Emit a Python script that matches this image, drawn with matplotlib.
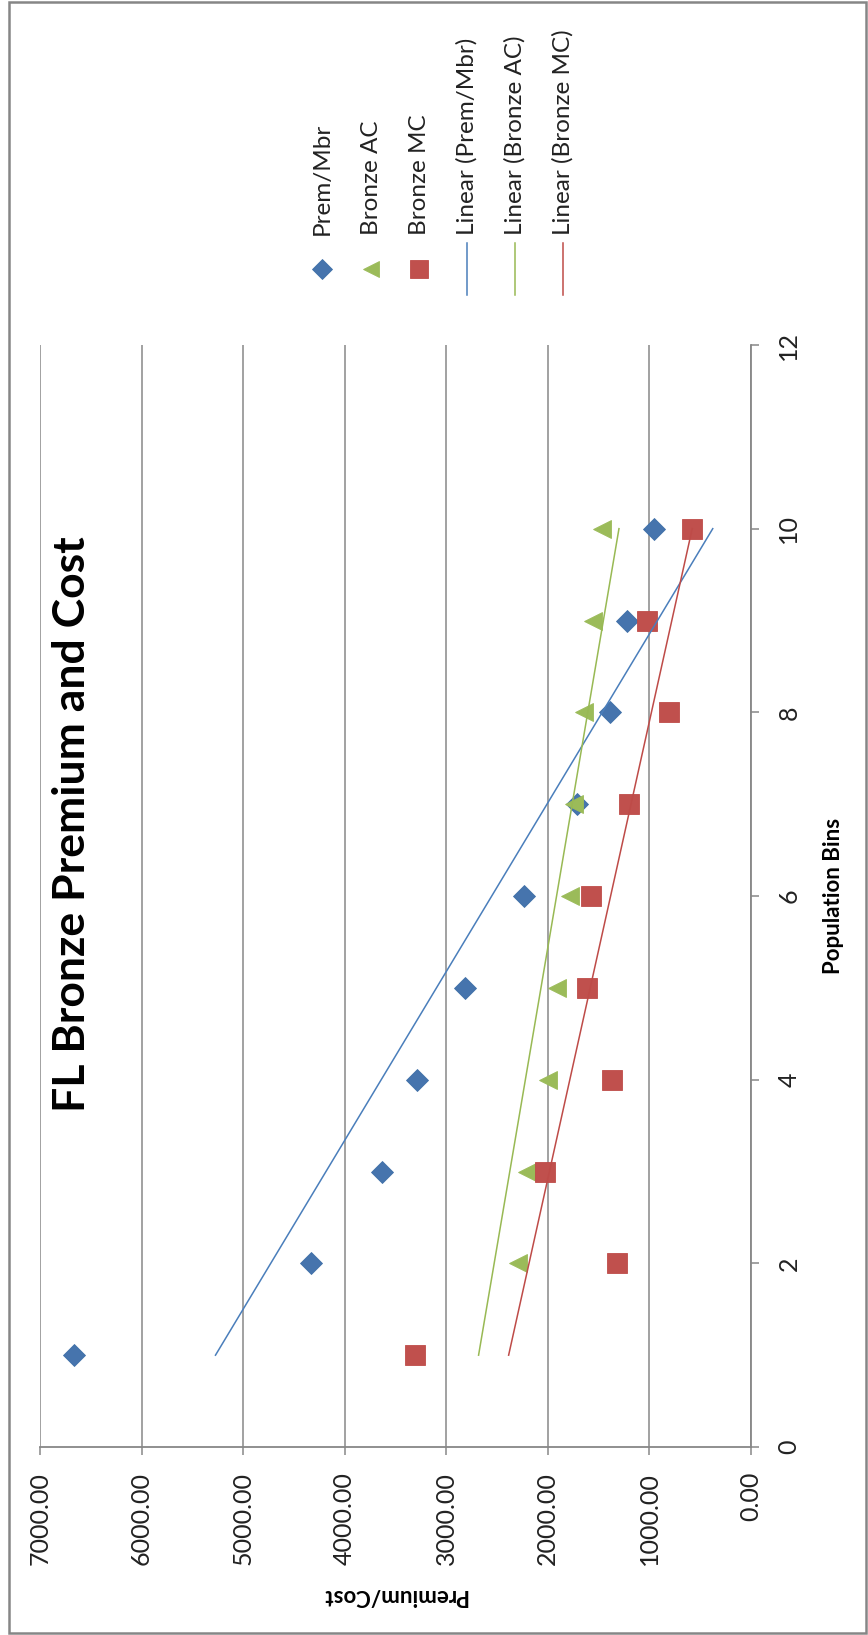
import matplotlib
matplotlib.use("Agg")
import matplotlib.pyplot as plt
import numpy as np
from matplotlib.lines import Line2D
from matplotlib.patches import Rectangle

# data
bins = [1, 2, 3, 4, 5, 6, 7, 8, 9, 10]
prem_mbr = [6670, 4330, 3635, 3285, 2820, 2230, 1715, 1385, 1220, 955]
bronze_ac = [3305, 2290, 2205, 2000, 1910, 1785, 1745, 1640, 1560, 1470]
bronze_mc = [3305, 1315, 2030, 1365, 1610, 1580, 1200, 810, 1025, 585]
series_names = ["Prem/Mbr", "Bronze AC", "Bronze MC"]
trend_names = ["Linear (Prem/Mbr)", "Linear (Bronze AC)", "Linear (Bronze MC)"]
value_ticks = [0, 1000, 2000, 3000, 4000, 5000, 6000, 7000]
bin_ticks = [0, 2, 4, 6, 8, 10, 12]
title = "FL Bronze Premium and Cost"

plt.rcParams['font.family'] = ['Lato', 'DejaVu Sans']

W, H = 868, 1635
fig = plt.figure(figsize=(W / 100, H / 100), dpi=100)


def px(x, y):
    return x / W, 1 - y / H


# chart is laid out turned on its side: values run right-to-left, bins bottom-to-top
ax = fig.add_axes([40 / W, 1 - 1447 / H, 711 / W, (1447 - 345) / H])
ax.set_xlim(7000, 0)
ax.set_ylim(0, 12)

grey = "#878787"
for side in ["top", "left"]:
    ax.spines[side].set_visible(False)
for side in ["bottom", "right"]:
    ax.spines[side].set_color(grey)
    ax.spines[side].set_linewidth(1.3)

ax.set_xticks(value_ticks)
ax.set_xticklabels(["%.2f" % v for v in value_ticks])
ax.set_yticks(bin_ticks)
ax.yaxis.tick_right()
ax.tick_params(axis="x", direction="out", length=6, width=1.1, color=grey,
               pad=12, labelsize=18, labelrotation=90, labelcolor="#222222")
ax.tick_params(axis="y", direction="out", length=6, width=1.1, color=grey,
               pad=13, labelsize=18, labelrotation=90, labelcolor="#222222")
for lbl in ax.get_yticklabels():
    lbl.set_verticalalignment("center")
    lbl.set_horizontalalignment("left")

ax.grid(axis="x", color=grey, linewidth=1.1)
ax.set_axisbelow(True)

series = [prem_mbr, bronze_ac, bronze_mc]
markers = ["D", "<", "s"]
sizes = [11.5, 13, 14.5]
fills = ["#4674AD", "#9BBB59", "#C0504D"]
edges = ["#4070A8", "#9BBB59", "#BE4B48"]
trend_colors = ["#4A7EBB", "#98B954", "#BE4B48"]

for vals, m, s, fc, ec in zip(series, markers, sizes, fills, edges):
    ax.plot(vals, bins, linestyle="none", marker=m, markersize=s,
            markerfacecolor=fc, markeredgecolor=ec, markeredgewidth=0.6,
            clip_on=False, zorder=3)

b = np.array(bins, dtype=float)
ends = np.array([b[0], b[-1]])
for vals, col in zip(series, trend_colors):
    k, c = np.polyfit(b, np.array(vals, dtype=float), 1)
    ax.plot(k * ends + c, ends, color=col, linewidth=1.1, zorder=4)

# title and axis titles
fig.text(*px(72, 824), title, rotation=90, ha="center", va="center",
         fontsize=32, fontweight="bold", color="black")
fig.text(*px(834, 896), "Population Bins", rotation=90, ha="center",
         va="center", fontsize=16, fontweight="bold", color="black")
fig.text(*px(394, 1595), "Premium/Cost", rotation=180, ha="center",
         va="center", fontsize=16, fontweight="bold", color="black")

# legend, stacked along x
leg_x = [322, 371, 419, 467, 515, 563]
for i in range(3):
    x0, y0 = px(leg_x[i], 269)
    fig.add_artist(Line2D([x0], [y0], transform=fig.transFigure,
                          linestyle="none", marker=markers[i],
                          markersize=sizes[i] * 0.85,
                          markerfacecolor=fills[i], markeredgecolor=edges[i],
                          markeredgewidth=0.6))
for i in range(3):
    xa, ya = px(leg_x[i + 3], 243)
    xb, yb = px(leg_x[i + 3], 295)
    fig.add_artist(Line2D([xa, xb], [ya, yb], transform=fig.transFigure,
                          color=trend_colors[i], linewidth=1.1))
for x, name in zip(leg_x, series_names + trend_names):
    fig.text(*px(x, 235), name, rotation=90, rotation_mode="anchor",
             ha="left", va="center", fontsize=17.5, color="#222222")

# outer frame
fig.add_artist(Rectangle(px(9, 1633), 857 / W, 1631 / H,
                         transform=fig.transFigure, fill=False,
                         edgecolor="#868686", linewidth=1.8))

fig.savefig("out.png", dpi=100, facecolor="white")
